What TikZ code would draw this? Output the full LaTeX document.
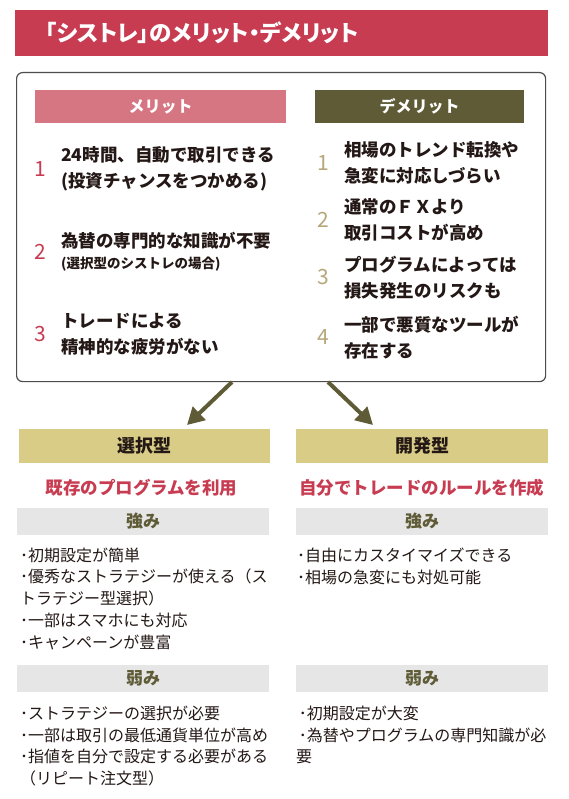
\documentclass[tikz,border=0pt]{standalone}
\usepackage{fontspec}
\setmainfont{Noto Sans CJK JP}
\newfontfamily\titlefont{Noto Sans CJK JP}[RawFeature=+palt]
\usetikzlibrary{arrows.meta,positioning}
\definecolor{strred}{HTML}{C83C52}
\definecolor{strpink}{HTML}{D67683}
\definecolor{strolive}{HTML}{5E5B36}
\definecolor{strtan}{HTML}{B7A67A}
\definecolor{strkhaki}{HTML}{D9CC86}
\definecolor{strgray}{HTML}{E6E6E6}
\definecolor{strframe}{HTML}{4D4D4D}
\definecolor{strink}{HTML}{231815}

\begin{document}
\begin{tikzpicture}[x=1pt, y=-1pt,
  title bar/.style={fill=strred, text=white, anchor=north west,
                    minimum height=46pt, text width=473pt, align=left,
                    inner xsep=30pt, inner ysep=0pt,
                    font=\titlefont\bfseries\fontsize{22.5}{26}\selectfont},
  main box/.style={draw=strframe, line width=1.2pt, rounded corners=6pt,
                   fill=white, anchor=north west, minimum width=529pt,
                   minimum height=309pt, inner sep=0pt},
  head/.style={text=white, minimum height=33pt, inner sep=0pt,
               font=\bfseries\fontsize{16}{18}\selectfont},
  num/.style={inner sep=0pt, font=\fontsize{21}{22}\selectfont},
  point/.style={anchor=west, inner sep=0pt, align=left, text=strink,
                font=\bfseries\fontsize{17.5}{25.5}\selectfont},
  note/.style={anchor=west, inner sep=0pt, text=strink,
               font=\bfseries\fontsize{13.5}{16}\selectfont},
  type box/.style={fill=strkhaki, minimum width=251pt, minimum height=34pt,
                   inner sep=0pt, text=strink,
                   font=\bfseries\fontsize{18}{20}\selectfont},
  catch/.style={text=strred, inner sep=0pt,
                font=\bfseries\fontsize{17.5}{20}\selectfont},
  sub bar/.style={fill=strgray, minimum width=252pt, minimum height=27pt,
                  inner sep=0pt, text=strolive,
                  font=\bfseries\fontsize{17}{20}\selectfont},
  list/.style={anchor=west, inner sep=0pt, align=left, text=strink,
               font=\fontsize{16}{21.75}\selectfont},
  flow/.style={-{Triangle[length=17pt, width=18pt]}, draw=strolive,
               line width=4pt},
]
  % #1 name, #2 x, #3 y, #4 number colour, #5 number, #6 text
  \newcommand{\meritline}[6]{%
    \node[num, text=#4] (#1-n) at (#2,#3) {#5};
    \node[point] (#1) at (#2+21,#3) {#6};
  }

  \fill[white] (0,0) rectangle (569,799);
  \useasboundingbox (0,0) rectangle (569,799);

  \node[title bar] (title) at (15,10) {「シストレ」のメリット・デメリット};

  % Upper box with both columns.
  \node[main box] (mainbox) at (16,72) {};
  \node[head, fill=strpink, minimum width=251pt] (pro-head) at (160.5,106.5) {メリット};
  \node[head, fill=strolive, minimum width=209pt] (con-head) at (419.5,106.5) {デメリット};

  \meritline{pro1}{40}{169}{strred}{1}{24時間、自動で取引できる\\(投資チャンスをつかめる)}
  \node[num, text=strred] (pro2-n) at (40,252) {2};
  \node[point] (pro2) at (61,241) {為替の専門的な知識が不要};
  \node[note] (pro2-note) at (61,264) {(選択型のシストレの場合)};
  \meritline{pro3}{40}{334.5}{strred}{3}{トレードによる\\精神的な疲労がない}

  \meritline{con1}{323}{163}{strtan}{1}{相場のトレンド転換や\\急変に対応しづらい}
  \meritline{con2}{323}{220}{strtan}{2}{通常のＦＸより\\取引コストが高め}
  \meritline{con3}{323}{277.5}{strtan}{3}{プログラムによっては\\損失発生のリスクも}
  \meritline{con4}{323}{337.5}{strtan}{4}{一部で悪質なツールが\\存在する}

  % Two kinds of system trading.
  \coordinate (split-l) at (232,382);
  \coordinate (split-r) at (328,382);
  \coordinate (choose-in) at (187,425);
  \coordinate (develop-in) at (373,425);
  \draw[flow] (split-l) -- (choose-in);
  \draw[flow] (split-r) -- (develop-in);

  \node[type box] (choose) at (144.5,446) {選択型};
  \node[type box, minimum width=252pt] (develop) at (422,446) {開発型};
  \node[catch] (choose-catch) at (141.5,488) {既存のプログラムを利用};
  \node[catch] (develop-catch) at (421.5,488) {自分でトレードのルールを作成};

  \node[sub bar] (choose-strong) at (143,521.5) {強み};
  \node[sub bar] (develop-strong) at (422,521.5) {強み};
  \node[list] (choose-strong-list) at (20,598.5)
    {･初期設定が簡単\\･優秀なストラテジーが使える（ス\\トラテジー型選択）\\･一部はスマホにも対応\\･キャンペーンが豊富};
  \node[list] (develop-strong-list) at (297,566)
    {･自由にカスタイマイズできる\\･相場の急変にも対処可能};

  \node[sub bar] (choose-weak) at (143,678.5) {弱み};
  \node[sub bar] (develop-weak) at (422,678.5) {弱み};
  \node[list] (choose-weak-list) at (20,746)
    {･ストラテジーの選択が必要\\･一部は取引の最低通貨単位が高め\\･指値を自分で設定する必要がある\\（リピート注文型）};
  \node[list] (develop-weak-list) at (296,735)
    {\,･初期設定が大変\\\,･為替やプログラムの専門知識が必\\要};
\end{tikzpicture}
\end{document}
